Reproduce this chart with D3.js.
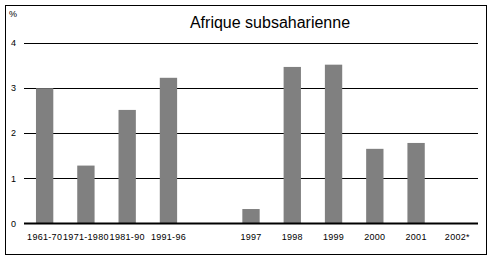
<!DOCTYPE html>
<meta charset="utf-8">
<head>
  <title>Afrique subsaharienne</title>
</head>

<style>
body {
  margin: 0;
  background: #fff;
  font-family: "Liberation Sans", Arial, sans-serif;
}
.title { font-size: 16px; }
.tick text, .unit { font-size: 9px; }
.xaxis .tick text { letter-spacing: 0.3px; }
</style>

<body>
  <svg id="chart" width="492" height="262"></svg>

  <script src="https://cdnjs.cloudflare.com/ajax/libs/d3/7.8.5/d3.min.js"></script>
  <script>

  var categories = ["1961-70", "1971-1980", "1981-90", "1991-96", "", "1997", "1998", "1999", "2000", "2001", "2002*"];
  var values = [2.99, 1.28, 2.51, 3.22, null, 0.32, 3.46, 3.51, 1.65, 1.78, null];
  var yTicks = [0, 1, 2, 3, 4];

  var svg = d3.select("#chart");

  // outer frame
  svg.append("rect")
    .attr("x", 5.5).attr("y", 5.5)
    .attr("width", 481).attr("height", 249)
    .attr("fill", "none").attr("stroke", "#000");

  var x = d3.scaleBand()
    .domain(d3.range(categories.length))
    .range([24, 478])
    .paddingInner(0.58)
    .paddingOuter(0.29);

  var y = d3.scaleLinear()
    .domain([0, 4])
    .range([223.5, 42.5]);

  // gridlines
  svg.append("g")
    .selectAll("line")
    .data(yTicks.filter(function(d) { return d > 0; }))
    .enter().append("line")
    .attr("x1", 24).attr("x2", 478)
    .attr("y1", function(d) { return Math.round(y(d)) + 0.5; })
    .attr("y2", function(d) { return Math.round(y(d)) + 0.5; })
    .attr("stroke", "#000");

  // y labels
  var yAxis = svg.append("g")
    .attr("transform", "translate(24,0)")
    .call(d3.axisLeft(y).tickValues(yTicks).tickSize(0).tickPadding(8).tickFormat(d3.format("d")));
  yAxis.select(".domain").remove();

  svg.append("text")
    .attr("class", "unit")
    .attr("x", 9).attr("y", 17)
    .text("%");

  // bars
  var bars = values.map(function(v, i) { return { i: i, v: v }; })
    .filter(function(d) { return d.v != null; });

  svg.append("g")
    .selectAll("rect")
    .data(bars)
    .enter().append("rect")
    .attr("x", function(d) { return x(d.i); })
    .attr("width", x.bandwidth())
    .attr("y", function(d) { return y(d.v); })
    .attr("height", function(d) { return y(0) - y(d.v); })
    .attr("fill", "#808080");

  // x axis
  var xAxis = svg.append("g")
    .attr("class", "xaxis")
    .attr("transform", "translate(0," + y(0) + ")")
    .call(d3.axisBottom(x).tickSize(0).tickPadding(10).tickFormat(function(i) { return categories[i]; }));
  xAxis.select(".domain")
    .attr("d", "M24,0H478")
    .attr("stroke-width", 2);

  svg.append("text")
    .attr("class", "title")
    .attr("x", 270).attr("y", 28)
    .attr("text-anchor", "middle")
    .text("Afrique subsaharienne");

  </script>
</body>
</html>
